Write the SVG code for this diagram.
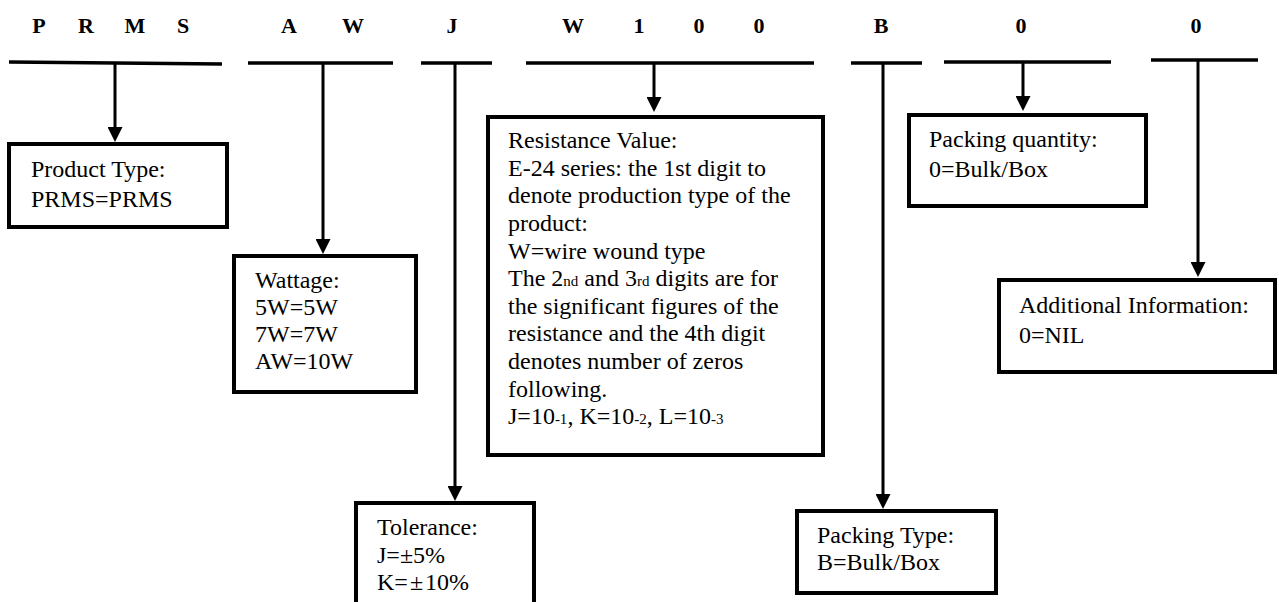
<svg xmlns="http://www.w3.org/2000/svg" width="1279" height="602" viewBox="0 0 1279 602">
<defs>
<style>
.code{font-family:"Liberation Serif","Times New Roman",serif;font-weight:bold;font-size:22px;fill:#000;text-anchor:middle}
.t{font-family:"Liberation Serif","Times New Roman",serif;font-size:24px;fill:#000}
.sm{font-size:15px}
.bar{stroke:#000;stroke-width:3.5;fill:none}
.box{stroke:#000;stroke-width:4;fill:#fff}
.conn{stroke:#000;stroke-width:3;fill:none;marker-end:url(#ah)}
</style>
<marker id="ah" viewBox="0 0 15 15" refX="3" refY="7.5" markerWidth="15" markerHeight="15" markerUnits="userSpaceOnUse" orient="auto">
<path d="M0,0 L15,7.5 L0,15 z" fill="#000"/>
</marker>
</defs>
<rect width="1279" height="602" fill="#fff"/>

<g id="code">
<text class="code" x="39" y="33">P</text>
<text class="code" x="86" y="33">R</text>
<text class="code" x="135" y="33">M</text>
<text class="code" x="183" y="33">S</text>
<text class="code" x="289" y="33">A</text>
<text class="code" x="353" y="33">W</text>
<text class="code" x="452" y="33">J</text>
<text class="code" x="573" y="33">W</text>
<text class="code" x="639" y="33">1</text>
<text class="code" x="699" y="33">0</text>
<text class="code" x="759" y="33">0</text>
<text class="code" x="881" y="33">B</text>
<text class="code" x="1021" y="33">0</text>
<text class="code" x="1196" y="33">0</text>
</g>

<g id="bars">
<line class="bar" x1="9" y1="62" x2="222" y2="64"/>
<line class="bar" x1="248" y1="63" x2="393" y2="63"/>
<line class="bar" x1="421" y1="63" x2="492" y2="63"/>
<line class="bar" x1="526" y1="63" x2="814" y2="63"/>
<line class="bar" x1="851" y1="63" x2="922" y2="63"/>
<line class="bar" x1="944" y1="62" x2="1111" y2="62"/>
<line class="bar" x1="1151" y1="60" x2="1258" y2="60"/>
</g>

<g id="connectors">
<line class="conn" x1="115" y1="64" x2="115" y2="130"/>
<line class="conn" x1="323" y1="63" x2="323" y2="242"/>
<line class="conn" x1="455" y1="63" x2="455" y2="489"/>
<line class="conn" x1="654" y1="63" x2="654" y2="100"/>
<line class="conn" x1="883" y1="63" x2="883" y2="497"/>
<line class="conn" x1="1023" y1="62" x2="1023" y2="99"/>
<line class="conn" x1="1198" y1="60" x2="1198" y2="265"/>
</g>

<g id="product-type">
<rect class="box" x="9" y="144" width="218" height="83"/>
<text class="t" x="31" y="177">Product Type:</text>
<text class="t" x="31" y="207">PRMS=PRMS</text>
</g>

<g id="wattage">
<rect class="box" x="234" y="256" width="182" height="136"/>
<text class="t" x="255" y="288">Wattage:</text>
<text class="t" x="255" y="315">5W=5W</text>
<text class="t" x="255" y="342">7W=7W</text>
<text class="t" x="255" y="369">AW=10W</text>
</g>

<g id="tolerance">
<rect class="box" x="356" y="503" width="178" height="130"/>
<text class="t" x="377" y="535">Tolerance:</text>
<text class="t" x="377" y="563">J=±5%</text>
<text class="t" x="377" y="590">K=<tspan dx="2">±</tspan><tspan dx="2">10%</tspan></text>
</g>

<g id="resistance">
<rect class="box" x="488" y="117" width="335" height="338"/>
<text class="t" x="508" y="148">Resistance Value:</text>
<text class="t" x="508" y="176">E-24 series: the 1st digit to</text>
<text class="t" x="508" y="203">denote production type of the</text>
<text class="t" x="508" y="231">product:</text>
<text class="t" x="508" y="259">W=wire wound type</text>
<text class="t" x="508" y="286">The 2<tspan class="sm">nd</tspan> and 3<tspan class="sm">rd</tspan> digits are for</text>
<text class="t" x="508" y="314">the significant figures of the</text>
<text class="t" x="508" y="341">resistance and the 4th digit</text>
<text class="t" x="508" y="369">denotes number of zeros</text>
<text class="t" x="508" y="397">following.</text>
<text class="t" x="508" y="424">J=10<tspan class="sm">-1</tspan>, K=10<tspan class="sm">-2</tspan>, L=10<tspan class="sm">-3</tspan></text>
</g>

<g id="packing-type">
<rect class="box" x="797" y="511" width="199" height="82"/>
<text class="t" x="817" y="543">Packing Type:</text>
<text class="t" x="817" y="570">B=Bulk/Box</text>
</g>

<g id="packing-quantity">
<rect class="box" x="909" y="115" width="237" height="91"/>
<text class="t" x="929" y="147">Packing quantity:</text>
<text class="t" x="929" y="177">0=Bulk/Box</text>
</g>

<g id="additional-information">
<rect class="box" x="999" y="280" width="276" height="92"/>
<text class="t" x="1019" y="313">Additional Information:</text>
<text class="t" x="1019" y="343">0=NIL</text>
</g>
</svg>
